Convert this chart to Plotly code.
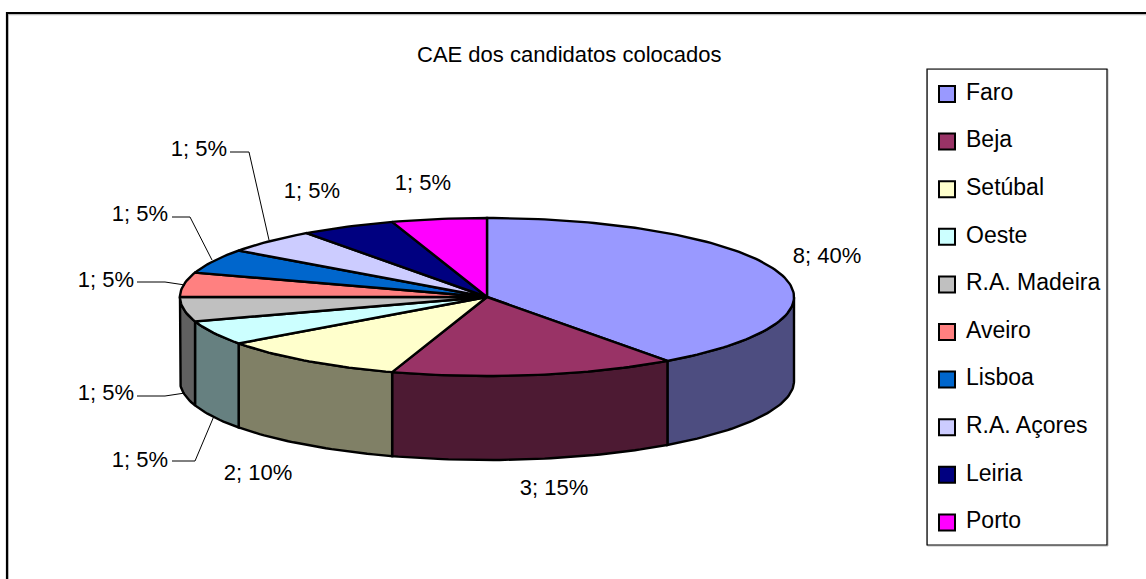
import math
import plotly.graph_objects as go

categories = ["Faro", "Beja", "Setúbal", "Oeste", "R.A. Madeira", "Aveiro", "Lisboa", "R.A. Açores", "Leiria", "Porto"]
values = [8, 3, 2, 1, 1, 1, 1, 1, 1, 1]
percents = [40, 15, 10, 5, 5, 5, 5, 5, 5, 5]
top_colors = ["#9999FF", "#993366", "#FFFFCC", "#CCFFFF", "#C0C0C0", "#FF8080", "#0066CC", "#CCCCFF", "#000080", "#FF00FF"]
side_colors = ["#4D4D80", "#4D1A33", "#808066", "#668080", "#606060", "#804040", "#003366", "#666680", "#000040", "#800080"]

CX, CY, RX, RY, DEPTH = 487, 297, 307, 79, 84
LINE = dict(color="black", width=2.4)
FONT = "Liberation Sans"
label_pos = [(827, 257), (554, 489), (258, 474), (140, 461), (106, 394),
             (106, 281), (140, 215), (199, 150), (312, 192), (423, 184)]
leaders = [None, None, None,
           ([172, 195, 214], [461, 461, 416]),
           ([137, 165, 185], [396, 396, 393]),
           ([137, 165, 185], [282, 282, 285]),
           ([172, 190, 212], [217, 217, 260]),
           ([230, 249, 269], [152, 152, 240]),
           None, None]

def point(frac, drop=0.0):
    a = 2 * math.pi * frac
    return CX + RX * math.sin(a), CY - RY * math.cos(a) + drop

total = sum(values)
fig = go.Figure()

spans = []
cum = 0
for v in values:
    spans.append((cum / total, (cum + v) / total))
    cum += v

# visible side walls (front half of the ellipse)
for (f0, f1), col in zip(spans, side_colors):
    lo, hi = max(f0, 0.25), min(f1, 0.75)
    if lo >= hi:
        continue
    n = max(2, int((hi - lo) * 300))
    fr = [lo + (hi - lo) * i / n for i in range(n + 1)]
    top = [point(f) for f in fr]
    bot = [point(f, DEPTH) for f in reversed(fr)]
    xs = [p[0] for p in top + bot] + [top[0][0]]
    ys = [p[1] for p in top + bot] + [top[0][1]]
    fig.add_trace(go.Scatter(x=xs, y=ys, mode="lines", fill="toself", fillcolor=col,
                             line=LINE, hoverinfo="skip", showlegend=False))

# top face slices
for (f0, f1), col in zip(spans, top_colors):
    n = max(2, int((f1 - f0) * 300))
    pts = [point(f0 + (f1 - f0) * i / n) for i in range(n + 1)]
    xs = [CX] + [p[0] for p in pts] + [CX]
    ys = [CY] + [p[1] for p in pts] + [CY]
    fig.add_trace(go.Scatter(x=xs, y=ys, mode="lines", fill="toself", fillcolor=col,
                             line=LINE, hoverinfo="skip", showlegend=False))

# leader lines
for ld in leaders:
    if ld:
        fig.add_trace(go.Scatter(x=ld[0], y=ld[1], mode="lines", line=dict(color="black", width=1),
                                 hoverinfo="skip", showlegend=False))

# data labels
fig.add_trace(go.Scatter(
    x=[p[0] for p in label_pos], y=[p[1] for p in label_pos], mode="text",
    text=[f"{v}; {p}%" for v, p in zip(values, percents)], textposition="middle center",
    textfont=dict(family=FONT, size=22, color="black"), hoverinfo="skip", showlegend=False))

# legend
legend_y = [94 + 47.6 * i for i in range(len(categories))]
fig.add_trace(go.Scatter(
    x=[947] * len(categories), y=legend_y, mode="markers",
    marker=dict(symbol="square", size=16, color=top_colors, line=dict(color="black", width=2)),
    hoverinfo="skip", showlegend=False))
fig.add_trace(go.Scatter(
    x=[966] * len(categories), y=legend_y, mode="text", text=categories, textposition="middle right",
    textfont=dict(family=FONT, size=23, color="black"), hoverinfo="skip", showlegend=False))

fig.update_layout(
    width=1146, height=579, autosize=False,
    margin=dict(l=0, r=0, t=0, b=0),
    paper_bgcolor="white", plot_bgcolor="white", showlegend=False,
    xaxis=dict(range=[0, 1146], visible=False, fixedrange=True),
    yaxis=dict(range=[579, 0], visible=False, fixedrange=True),
    shapes=[
        dict(type="rect", xref="x", yref="y", x0=8, y0=14.5, x1=1160, y1=600, line=dict(color="#BBBBBB", width=1.5), layer="below"),
        dict(type="rect", xref="x", yref="y", x0=7, y0=13, x1=1160, y1=600, line=dict(color="black", width=2.2), layer="below"),
        dict(type="rect", xref="x", yref="y", x0=927.5, y0=69.5, x1=1108, y1=546, line=dict(color="#BBBBBB", width=1), layer="below"),
        dict(type="rect", xref="x", yref="y", x0=927, y0=69, x1=1107, y1=545, line=dict(color="black", width=1.2), layer="below"),
    ],
    annotations=[dict(x=569.5, y=54, xref="x", yref="y", text="CAE dos candidatos colocados", showarrow=False,
                      font=dict(family=FONT, size=22, color="black"))],
)
fig.write_html("out.html", config={"displayModeBar": False},
               post_script="document.body.style.margin='0';document.documentElement.style.overflow='hidden';")
